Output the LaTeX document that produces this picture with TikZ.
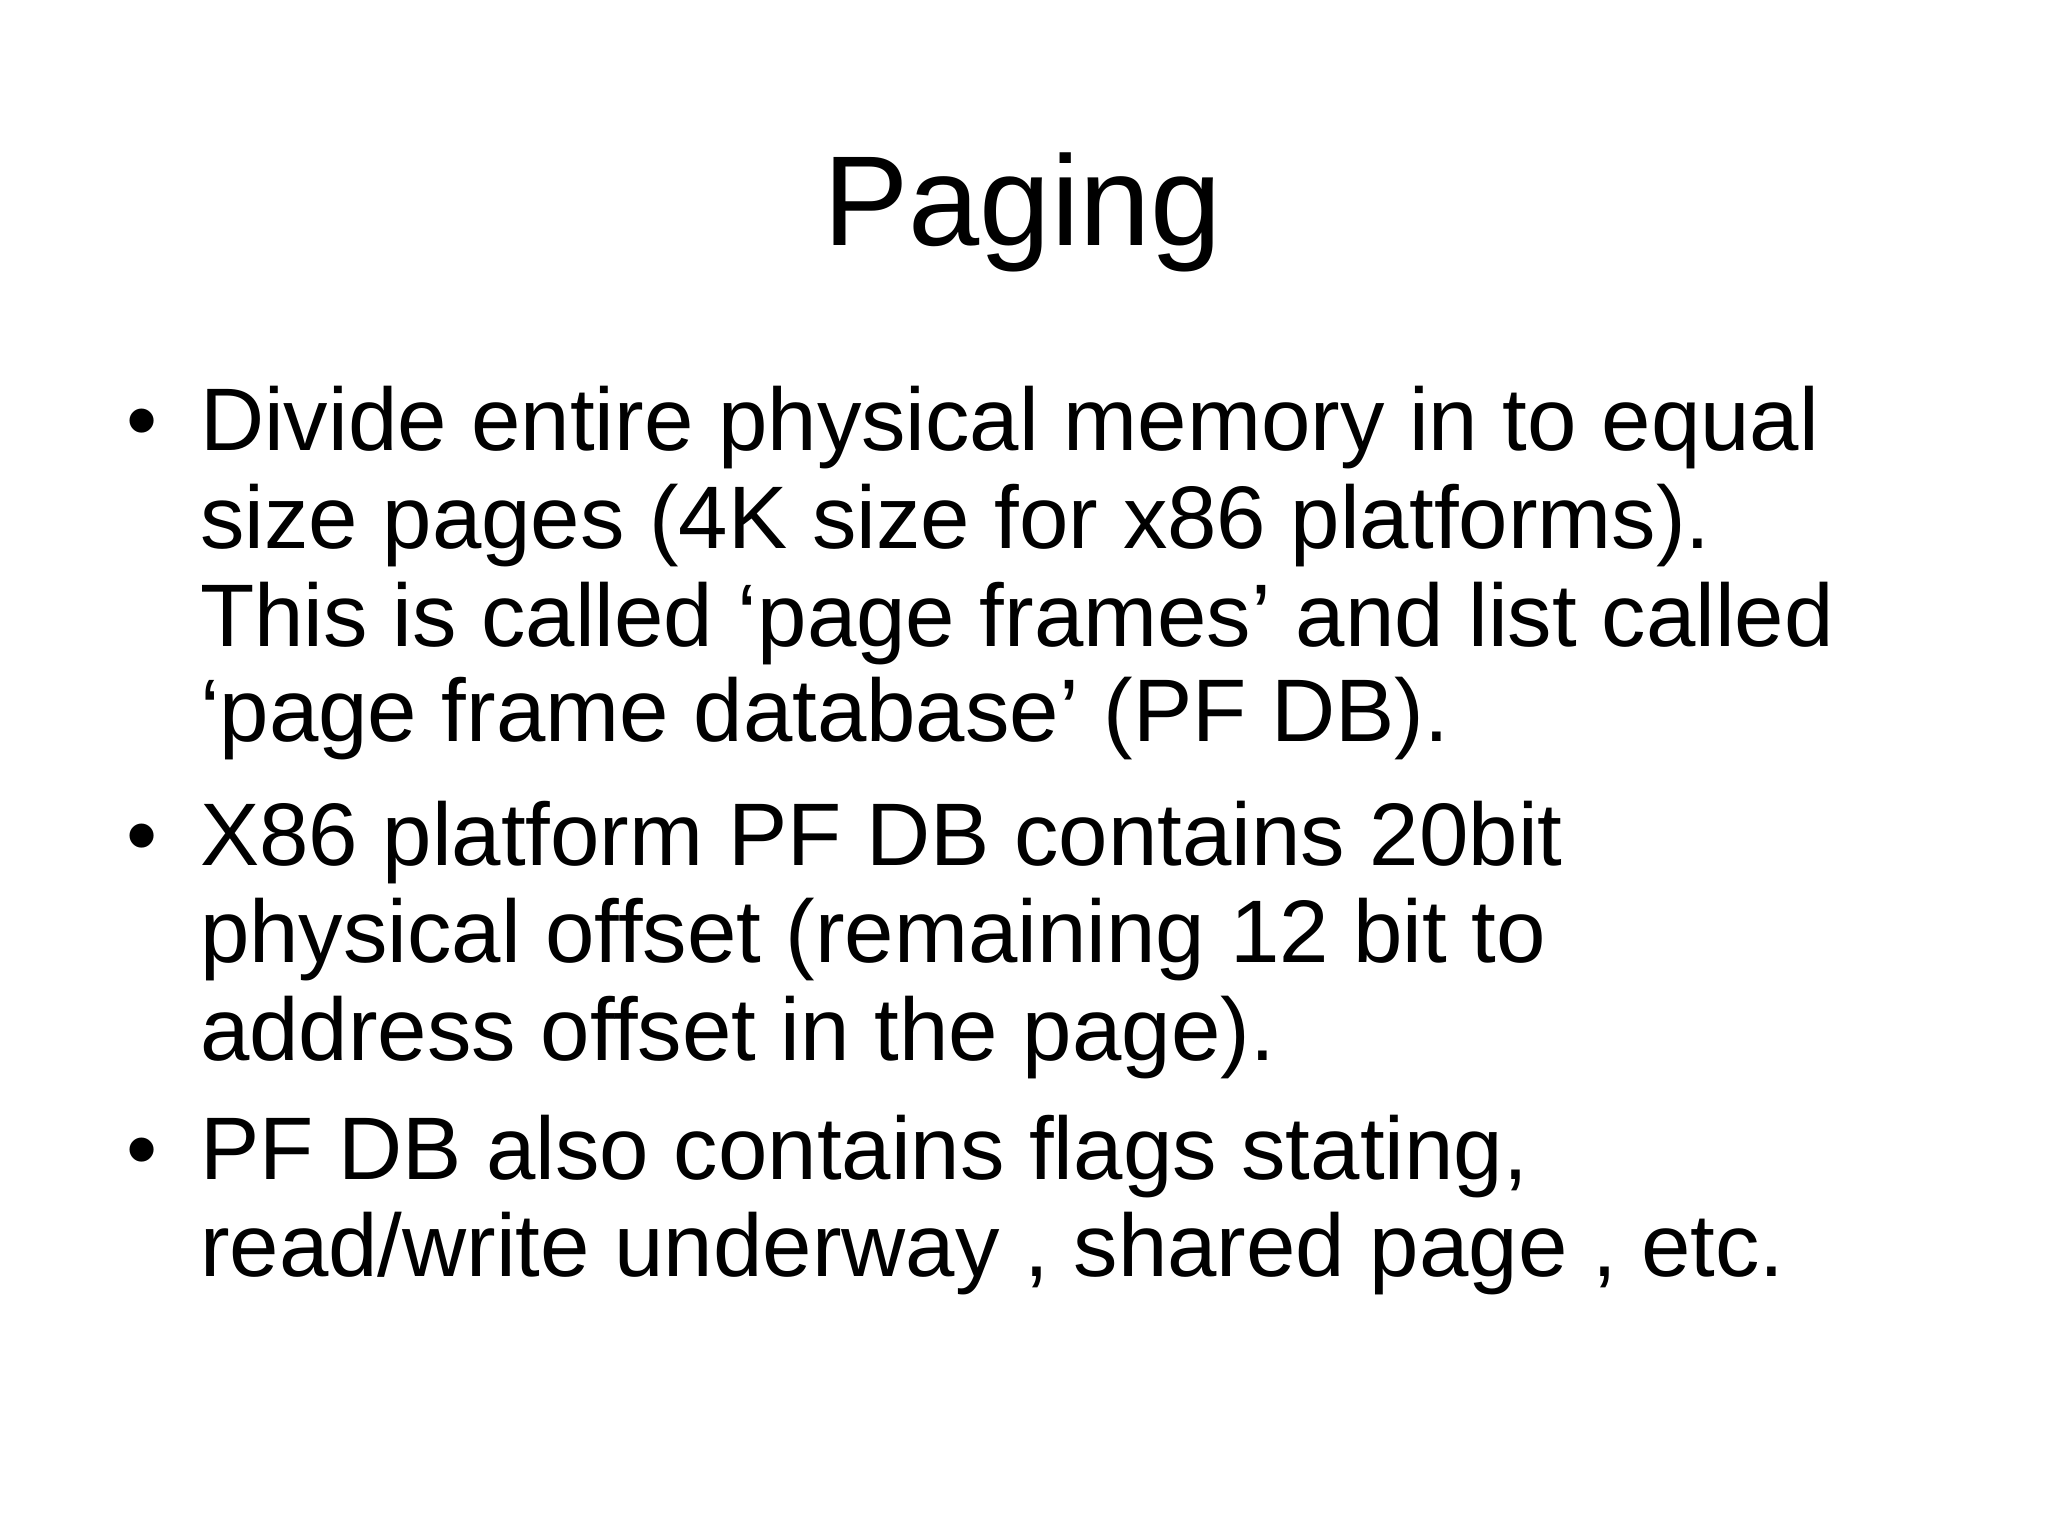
\documentclass[tikz,border=0pt]{standalone}
\usepackage{fontspec}
\setmainfont{Liberation Sans}
\begin{document}
\begin{tikzpicture}[x=1pt,y=-1pt,
  line/.style={anchor=base west,inner sep=0pt,font=\fontsize{68}{80}\selectfont},
  bul/.style={anchor=base west,inner sep=0pt,font=\fontsize{68}{80}\selectfont}]
\useasboundingbox (0,0) rectangle (1568,1176);
\node[anchor=base,inner sep=0pt,font=\fontsize{98}{110}\selectfont] (title) at (783,188) {Paging};
\node[bul] (b1) at (97,345) {\textbullet};
\node[line] (l1) at (153,345) {Divide entire physical memory in to equal};
\node[line] (l2) at (153,420) {size pages (4K size for x86 platforms).};
\node[line] (l3) at (153,495) {This is called ‘page frames’ and list called};
\node[line] (l4) at (153,568) {‘page frame database’ (PF DB).};
\node[bul] (b2) at (97,663) {\textbullet};
\node[line] (l5) at (153,663) {X86 platform PF DB contains 20bit};
\node[line] (l6) at (153,737) {physical offset (remaining 12 bit to};
\node[line] (l7) at (153,812) {address offset in the page).};
\node[bul] (b3) at (97,903) {\textbullet};
\node[line] (l8) at (153,903) {PF DB also contains flags stating,};
\node[line] (l9) at (153,977) {read/write underway , shared page , etc.};
\end{tikzpicture}
\end{document}
